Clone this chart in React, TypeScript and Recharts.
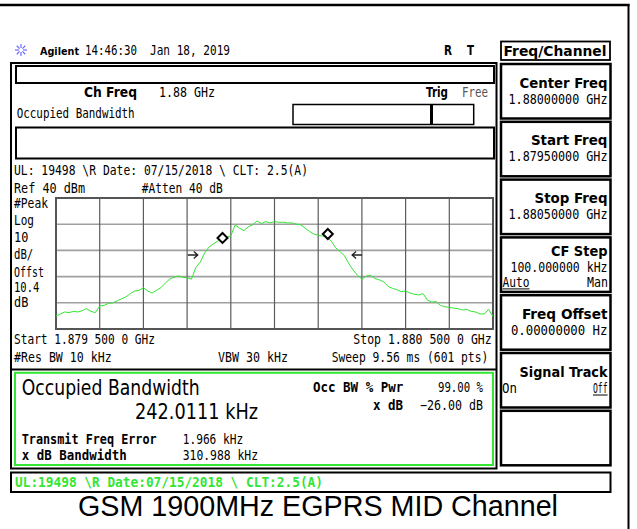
import React from 'react';
import {
  LineChart,
  Line,
  XAxis,
  YAxis,
  CartesianGrid,
  ReferenceDot,
  ReferenceArea,
} from 'recharts';

// sweep points, kHz offset from 1.88 GHz centre
const freqKHz = [
  -500, -490, -480, -470, -460, -450, -440, -430, -420, -410,
  -400, -390, -380, -370, -360, -350, -340, -330, -320, -310,
  -300, -290, -280, -270, -260, -250, -240, -230, -220, -210,
  -200, -190, -180, -170, -160, -150, -140, -130, -120, -110,
  -100, -90, -80, -70, -60, -50, -40, -30, -20, -10,
  0, 10, 20, 30, 40, 50, 60, 70, 80, 90,
  100, 110, 120, 130, 140, 150, 160, 170, 180, 190,
  200, 210, 220, 230, 240, 250, 260, 270, 280, 290,
  300, 310, 320, 330, 340, 350, 360, 370, 380, 390,
  400, 410, 420, 430, 440, 450, 460, 470, 480, 490, 500,
];

// trace level, dBm
const levelDbm = [
  -50, -48.5, -47, -47.5, -46.5, -47, -46, -44.5, -46.5, -47.5,
  -42.5, -42, -40.5, -40, -38.5, -37, -35.5, -33, -31, -30.5,
  -28.5, -31, -32.5, -30.5, -28.5, -25, -22, -20.5, -19.5, -20.5,
  -21, -22, -13, -9, -2, 2.5, 5, 7, 9, 10,
  11, 19.5, 17, 15, 18, 19.5, 22.5, 20.5, 22, 21,
  22, 21.5, 21.5, 21, 21, 20, 19.5, 17, 14.5, 12.5,
  11.5, 11, 10.5, 7, 2, -1, -4, -10, -15, -19,
  -22, -19.5, -19, -21.5, -22.5, -24, -27.5, -29, -30, -31.5,
  -31, -32.5, -33.5, -34, -33, -38, -39.5, -39, -42, -43,
  -43.5, -44, -44.5, -45.5, -45, -46.5, -47, -48.5, -48.5, -45, -50.5,
];

const xTicks = [-500, -400, -300, -200, -100, 0, 100, 200, 300, 400, 500];
const yTicks = [-60, -50, -40, -30, -20, -10, 0, 10, 20, 30, 40];

const obwMarkers = [
  { f: -119, level: 9.5 },
  { f: 122, level: 12.5 },
];
const xdbArrows = [
  { f: -187, level: -3.5, dir: 'right' },
  { f: 189, level: -3.5, dir: 'left' },
];

const softkeys = [
  { label: 'Center Freq', lw: 88, value: '1.88000000 GHz', vw: 99 },
  { label: 'Start Freq', lw: 76.6, value: '1.87950000 GHz', vw: 99 },
  { label: 'Stop Freq', lw: 73, value: '1.88050000 GHz', vw: 99 },
  { label: 'CF Step', lw: 56.6, value: '100.000000 kHz', vw: 97 },
  { label: 'Freq Offset', lw: 85.6, value: '0.00000000  Hz', vw: 96.6 },
  { label: 'Signal Track', lw: 88, value: '', vw: 0 },
  { label: '', lw: 0, value: '', vw: 0 },
];

const data = freqKHz.map((f, i) => ({ f, level: levelDbm[i] }));

const GREEN = '#33e633';

function T({ x, y, w, s = 13.5, b = false, c = '#000', f, children }: any) {
  return (
    <text
      x={x}
      y={y}
      fontSize={s}
      fontWeight={b ? 'bold' : 'normal'}
      fill={c}
      fontFamily={f ?? (b ? 'DejaVu Sans' : 'DejaVu Sans Mono')}
      textLength={w}
      lengthAdjust="spacingAndGlyphs"
    >
      {children}
    </text>
  );
}

function Diamond({ cx, cy }: any) {
  return (
    <path
      d={`M${cx},${cy - 5} L${cx + 5},${cy} L${cx},${cy + 5} L${cx - 5},${cy} Z`}
      fill="#fff"
      stroke="#000"
      strokeWidth={2}
    />
  );
}

function Arrow(dir: string) {
  return ({ cx, cy }: any) => {
    const k = dir === 'right' ? 1 : -1;
    return (
      <path
        d={`M${cx - 5 * k},${cy} L${cx + 5 * k},${cy} M${cx + 1 * k},${cy - 3.5} L${cx + 5 * k},${cy} L${cx + 1 * k},${cy + 3.5}`}
        fill="none"
        stroke="#222"
        strokeWidth={1.3}
      />
    );
  };
}

function Screen() {
  const keyTop = (i: number) => 64 + i * 57.8;
  return (
    <svg width={637} height={529} style={{ position: 'absolute', left: 0, top: 0 }}>
      <rect x={0} y={0} width={637} height={529} fill="#fff" />
      <line x1={0} y1={5} x2={629.5} y2={5} stroke="#000" strokeWidth={2.5} />
      <line x1={628.5} y1={4} x2={628.5} y2={529} stroke="#000" strokeWidth={2} />

      {/* header */}
      <g stroke="#6a6aff" strokeWidth={1.2}>
        {[0, 45, 90, 135, 180, 225, 270, 315].map((a) => {
          const r = (a * Math.PI) / 180;
          return (
            <line
              key={a}
              x1={21 + 2 * Math.cos(r)}
              y1={50 + 2 * Math.sin(r)}
              x2={21 + 6 * Math.cos(r)}
              y2={50 + 6 * Math.sin(r)}
            />
          );
        })}
      </g>
      <T x={40} y={55} w={39} s={11} b>Agilent</T>
      <T x={85} y={55} w={52}>14:46:30</T>
      <T x={150} y={55} w={80}>Jan 18, 2019</T>
      <T x={444} y={55} w={8} b>R</T>
      <T x={467} y={55} w={7} b>T</T>

      {/* softkeys */}
      <rect x={501} y={41.5} width={109} height={18.5} fill="none" stroke="#000" strokeWidth={1.8} />
      <T x={503.5} y={56} w={103} s={14.5} b>Freq/Channel</T>
      {softkeys.map((k, i) => {
        const top = keyTop(i);
        const step = k.label === 'CF Step';
        return (
          <g key={i}>
            <rect x={501} y={top} width={109.5} height={54.5} fill="none" stroke="#000" strokeWidth={2.5} />
            {k.label && (
              <T x={607.5 - k.lw} y={top + (step ? 19 : 23.5)} w={k.lw} s={14.5} b>
                {k.label}
              </T>
            )}
            {k.value && (
              <T x={607.5 - k.vw} y={top + (step ? 35 : 39.5)} w={k.vw}>
                {k.value}
              </T>
            )}
          </g>
        );
      })}
      <T x={502.5} y={keyTop(3) + 49.5} w={27}>Auto</T>
      <line x1={502.5} y1={keyTop(3) + 51.5} x2={529.5} y2={keyTop(3) + 51.5} stroke="#000" strokeWidth={1} />
      <T x={587} y={keyTop(3) + 49.5} w={21}>Man</T>
      <T x={502} y={keyTop(5) + 40} w={15}>On</T>
      <T x={593} y={keyTop(5) + 40} w={14.6}>Off</T>
      <line x1={593} y1={keyTop(5) + 42} x2={607.6} y2={keyTop(5) + 42} stroke="#000" strokeWidth={1} />

      {/* measurement frame */}
      <rect x={11} y={63} width={485.5} height={405.5} fill="none" stroke="#000" strokeWidth={2} />
      <rect x={16} y={66} width={478} height={17} fill="none" stroke="#000" strokeWidth={2} />
      <T x={84} y={97} w={53} b>Ch Freq</T>
      <T x={159} y={97} w={56}>1.88 GHz</T>
      <T x={426} y={97} w={22} b>Trig</T>
      <T x={462} y={97} w={26} c="#555">Free</T>
      <T x={16.7} y={118} w={118}>Occupied Bandwidth</T>
      <rect x={293} y={104.5} width={180.7} height={20} fill="none" stroke="#000" strokeWidth={1.5} />
      <rect x={430} y={104.5} width={3} height={20} fill="#000" />
      <rect x={16} y={127.5} width={478} height={31} fill="none" stroke="#000" strokeWidth={2} />
      <T x={14} y={175} w={294}>UL: 19498 \R Date: 07/15/2018 \ CLT: 2.5(A)</T>
      <T x={14} y={193} w={71}>Ref 40 dBm</T>
      <T x={141.7} y={193} w={81}>#Atten 40 dB</T>
      <T x={14} y={208} w={34}>#Peak</T>
      <T x={14} y={224.5} w={20}>Log</T>
      <T x={14} y={241.5} w={14.3}>10</T>
      <T x={14} y={259} w={19.3}>dB/</T>
      <T x={14} y={276.5} w={30}>Offst</T>
      <T x={14} y={291.5} w={25.3}>10.4</T>
      <T x={14} y={306.5} w={14.3}>dB</T>
      <T x={14} y={344} w={141}>Start 1.879 500 0 GHz</T>
      <T x={353.3} y={344} w={138.4}>Stop 1.880 500 0 GHz</T>
      <T x={14} y={361.5} w={97.7}>#Res BW 10 kHz</T>
      <T x={218} y={361.5} w={70}>VBW 30 kHz</T>
      <T x={331.7} y={361.5} w={156.6}>Sweep 9.56 ms (601 pts)</T>
      <line x1={10} y1={369.5} x2={497} y2={369.5} stroke="#000" strokeWidth={2} />

      {/* result box */}
      <rect x={15} y={372.8} width={478} height={92.2} fill="none" stroke={GREEN} strokeWidth={2} />
      <T x={21.7} y={395} w={178} s={22} f="DejaVu Sans">Occupied Bandwidth</T>
      <T x={135} y={419.3} w={123} s={22} f="DejaVu Sans">242.0111 kHz</T>
      <T x={21.7} y={444} w={135} b f="DejaVu Sans Mono">Transmit Freq Error</T>
      <T x={182.7} y={444} w={60.6}>1.966 kHz</T>
      <T x={21.7} y={460} w={105} b f="DejaVu Sans Mono">x dB Bandwidth</T>
      <T x={182.7} y={460} w={75.3}>310.988 kHz</T>
      <T x={313} y={391.7} w={90.3} b f="DejaVu Sans Mono">Occ BW % Pwr</T>
      <T x={438} y={391.7} w={45}>99.00 %</T>
      <T x={373} y={410} w={30} b f="DejaVu Sans Mono">x dB</T>
      <T x={420} y={410} w={63}>−26.00 dB</T>

      {/* status bar */}
      <rect x={11} y={472.5} width={599.5} height={19.5} fill="none" stroke="#000" strokeWidth={2} />
      <T x={15} y={487} w={308} b c={GREEN} f="DejaVu Sans Mono">UL:19498 \R Date:07/15/2018 \ CLT:2.5(A)</T>

      <T x={78} y={516} w={480} s={29} f="Liberation Sans">GSM 1900MHz EGPRS MID Channel</T>
    </svg>
  );
}

export default function App() {
  return (
    <div style={{ position: 'absolute', left: 0, top: 0, width: 637, height: 529, background: '#fff' }}>
      <Screen />
      <div style={{ position: 'absolute', left: 0, top: 0 }}>
        <LineChart
          width={637}
          height={529}
          data={data}
          margin={{ top: 198, right: 144, bottom: 200, left: 56 }}
        >
          <XAxis type="number" dataKey="f" domain={[-500, 500]} ticks={xTicks} hide allowDataOverflow />
          <YAxis type="number" domain={[-60, 40]} ticks={yTicks} hide allowDataOverflow />
          <CartesianGrid vertical={false} stroke="#a0a0a0" strokeWidth={1.6} />
          <CartesianGrid horizontal={false} stroke="#5c5c5c" strokeWidth={1.2} />
          <ReferenceArea x1={-500} x2={500} y1={-60} y2={40} fill="none" fillOpacity={0} stroke="#555" strokeWidth={2} />
          <Line
            type="linear"
            dataKey="level"
            stroke={GREEN}
            strokeWidth={1}
            dot={false}
            isAnimationActive={false}
          />
          {obwMarkers.map((m) => (
            <ReferenceDot key={m.f} x={m.f} y={m.level} r={5} shape={Diamond} />
          ))}
          {xdbArrows.map((a) => (
            <ReferenceDot key={a.f} x={a.f} y={a.level} r={5} shape={Arrow(a.dir)} />
          ))}
        </LineChart>
      </div>
    </div>
  );
}
